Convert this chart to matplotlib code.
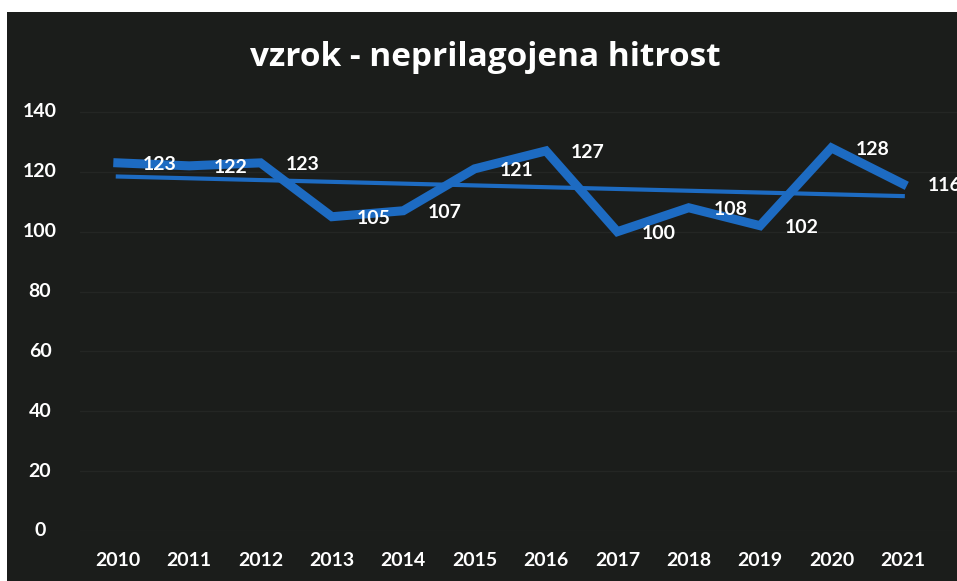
import matplotlib.pyplot as plt
from matplotlib.patches import Rectangle
import numpy as np

years = ['2010', '2011', '2012', '2013', '2014', '2015',
         '2016', '2017', '2018', '2019', '2020', '2021']
values = [123, 122, 123, 105, 107, 121, 127, 100, 108, 102, 128, 116]
yticks = [0, 20, 40, 60, 80, 100, 120, 140]
title = 'vzrok - neprilagojena hitrost'

bg = '#1b1d1b'
blue = '#1d6bc2'
plt.rcParams['font.family'] = ['Lato', 'DejaVu Sans']

fig = plt.figure(figsize=(9.57, 5.81), dpi=100, facecolor=bg)
# white scan border on top and left
fig.add_artist(Rectangle((0, 1 - 12 / 581), 1, 12 / 581, transform=fig.transFigure,
                         facecolor='white', edgecolor='none', zorder=0))
fig.add_artist(Rectangle((0, 0), 7 / 957, 1, transform=fig.transFigure,
                         facecolor='white', edgecolor='none', zorder=0))

ax = fig.add_axes([80 / 957, 50 / 581, 877 / 957, 431 / 581])
ax.set_facecolor(bg)
x = np.arange(len(years))

ax.plot(x, values, color=blue, lw=6.5, solid_joinstyle='miter', zorder=3)

# linear trend
k, b = np.polyfit(x, values, 1)
ax.plot(x, k * x + b, color=blue, lw=3, zorder=2)

for xi, v in zip(x, values):
    ax.annotate(str(v), (xi, v), xytext=(30, -1), textcoords='offset points',
                ha='center', va='center', color='white', fontsize=14,
                fontweight='bold', zorder=4, annotation_clip=False)

ax.set_xlim(-0.53, 11.76)
ax.set_ylim(0, 144)
ax.set_xticks(x)
ax.set_xticklabels(years)
ax.set_yticks(yticks)
ax.tick_params(axis='x', length=0, pad=15, colors='white', labelsize=14)
ax.tick_params(axis='y', length=0, pad=0, colors='white', labelsize=14)
ax.set_yticklabels([])
for t in yticks:
    ax.text(-40 / 877, t, str(t), transform=ax.get_yaxis_transform(),
            ha='center', va='center', color='white', fontsize=14, fontweight='bold')
for lab in ax.get_xticklabels():
    lab.set_fontweight('bold')
ax.grid(axis='y', color='#242624', lw=1)
for s in ax.spines.values():
    s.set_visible(False)

fig.text(485 / 957, 1 - 57 / 581, title, ha='center', va='center',
         color='white', fontsize=24, fontweight='bold', family='Open Sans')

fig.savefig('out.png', dpi=100, facecolor=fig.get_facecolor())
